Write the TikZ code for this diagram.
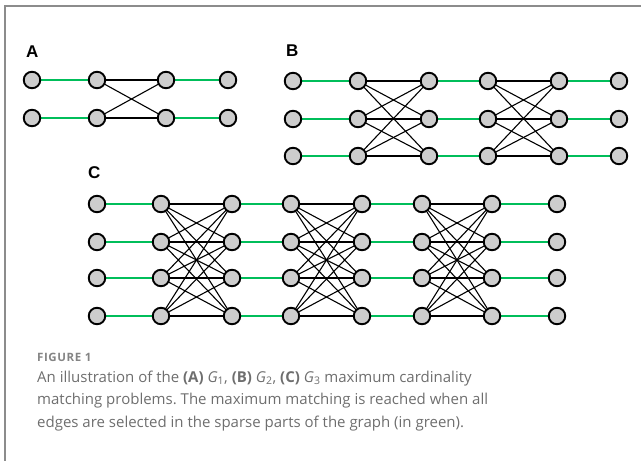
\documentclass[tikz,border=0pt]{standalone}
\usepackage{fontspec}
\setmainfont{Open Sans}
\newfontfamily\labelfont{Liberation Sans}
\usetikzlibrary{calc}
\frenchspacing
\definecolor{matchgreen}{RGB}{0,190,90}
\definecolor{nodegray}{RGB}{205,205,205}
\definecolor{framegray}{RGB}{140,140,140}
\definecolor{captiongray}{RGB}{110,110,110}
\tikzset{
  vertex/.style={circle,draw=black,fill=nodegray,line width=1.9pt,minimum size=16.5pt,inner sep=0pt},
  sparse/.style={draw=matchgreen,line width=2.8pt},
  dense/.style={draw=black,line width=1.1pt},
  panel/.style={font=\labelfont\bfseries\fontsize{17}{17}\selectfont,anchor=base west,inner sep=0pt},
  caption/.style={anchor=base west,inner sep=0pt,text=captiongray,font=\fontsize{15}{15}\selectfont}
}
\begin{document}
\begin{tikzpicture}[x=1pt,y=-1pt]
\useasboundingbox (0,0) rectangle (641,461);
% frame
\draw[framegray,line width=2pt] (641,5.5) -- (4.5,5.5) -- (4.5,461);

% panel labels
\node[panel] (lA) at (26,57) {A};
\node[panel] (lB) at (286,56) {B};
\node[panel] (lC) at (88,178) {C};

% ---- graph A: 4 columns, 2 rows
\foreach \c/\x in {1/32,2/97,3/166,4/228}
  \foreach \r/\y in {1/80,2/118}
    \coordinate (A-\c-\r) at (\x,\y);
\foreach \c in {1,3}{
  \pgfmathtruncatemacro{\n}{\c+1}
  \foreach \r in {1,2} \draw[sparse] (A-\c-\r) -- (A-\n-\r);}
\foreach \r in {1,2} \foreach \s in {1,2} \draw[dense] (A-2-\r) -- (A-3-\s);
\foreach \c in {1,...,4} \foreach \r in {1,2} \node[vertex] (nA-\c-\r) at (A-\c-\r) {};

% ---- graph B: 6 columns, 3 rows
\foreach \c/\x in {1/293,2/358,3/429,4/488,5/559,6/619}
  \foreach \r/\y in {1/81,2/119,3/156}
    \coordinate (B-\c-\r) at (\x,\y);
\foreach \c in {1,3,5}{
  \pgfmathtruncatemacro{\n}{\c+1}
  \foreach \r in {1,2,3} \draw[sparse] (B-\c-\r) -- (B-\n-\r);}
\foreach \c in {2,4}{
  \pgfmathtruncatemacro{\n}{\c+1}
  \foreach \r in {1,2,3} \foreach \s in {1,2,3} \draw[dense] (B-\c-\r) -- (B-\n-\s);}
\foreach \c in {1,...,6} \foreach \r in {1,2,3} \node[vertex] (nB-\c-\r) at (B-\c-\r) {};

% ---- graph C: 8 columns, 4 rows
\foreach \c/\x in {1/97,2/161,3/232,4/291,5/362,6/422,7/492,8/557}
  \foreach \r/\y in {1/204,2/242,3/278,4/316}
    \coordinate (C-\c-\r) at (\x,\y);
\foreach \c in {1,3,5,7}{
  \pgfmathtruncatemacro{\n}{\c+1}
  \foreach \r in {1,...,4} \draw[sparse] (C-\c-\r) -- (C-\n-\r);}
\foreach \c in {2,4,6}{
  \pgfmathtruncatemacro{\n}{\c+1}
  \foreach \r in {1,...,4} \foreach \s in {1,...,4} \draw[dense] (C-\c-\r) -- (C-\n-\s);}
\foreach \c in {1,...,8} \foreach \r in {1,...,4} \node[vertex] (nC-\c-\r) at (C-\c-\r) {};

% caption
\node[caption,font=\fontsize{11.5}{11.5}\selectfont\bfseries\addfontfeatures{LetterSpace=5},text=captiongray!85] (fig) at (37,361) {FIGURE 1};
\node[caption] (cap1) at (37,382) {An illustration of the \textbf{(A)} \textit{G}\textsubscript{1}, \textbf{(B)} \textit{G}\textsubscript{2}, \textbf{(C)} \textit{G}\textsubscript{3} maximum cardinality};
\node[caption] (cap2) at (37,404.5) {matching problems. The maximum matching is reached when all};
\node[caption] (cap3) at (37,427) {edges are selected in the sparse parts of the graph (in green).};
\end{tikzpicture}
\end{document}
